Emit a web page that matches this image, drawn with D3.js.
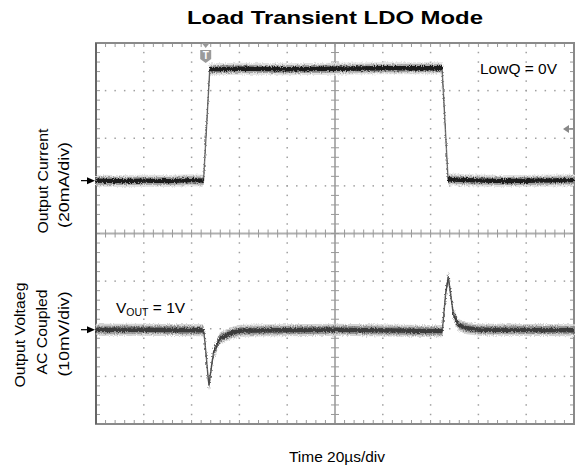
<!DOCTYPE html>
<html><head><meta charset="utf-8">
<script src="https://cdn.jsdelivr.net/npm/d3@7"></script>
<style>
html,body{margin:0;padding:0;background:#fff;}
svg{display:block;font-family:"Liberation Sans",Arial,Helvetica,sans-serif;}
</style></head>
<body>
<svg id="chart" width="576" height="468"></svg>
<script>
// ---- data ----
const title = "Load Transient LDO Mode";
const xLabel = "Time 20\u00B5s/div";
const currentLabel = ["Output Current", "(20mA/div)"];
const voltageLabel = ["Output Voltaeg", "AC Coupled", "(10mV/div)"];
const timeDivUs = 20, timeDivs = 10;
const currentDivMA = 20, voltageDivMV = 10, vertDivs = 8;

// Output current trace (µs, mA relative to screen centre)
const currentTimeUs = [0, 10, 20, 30, 40, 45.0, 47.6, 60, 80, 100, 120, 144.8, 147.3, 155, 170, 185, 200];
const currentMA     = [22.2, 22.0, 22.2, 22.0, 22.4, 22.2, 69.0, 69.2, 69.0, 69.2, 69.4, 69.4, 22.8, 22.4, 22.0, 22.2, 22.4];

// Output voltage trace (µs, mV relative to screen centre)
const voltTimeUs = [0, 20, 44.9, 45.2, 46.0, 47.0, 47.3, 48.1, 49.1, 51.9, 56.1, 60.3, 100, 144.9, 145.3, 146.3, 147.4, 148.4, 149.5, 151.6, 155.1, 160.7, 200];
const voltMV     = [-20.2, -20.2, -20.3, -20.9, -25.1, -30.8, -31.8, -28.7, -25.2, -22.0, -21.0, -20.4, -20.2, -20.5, -18.2, -12.6, -9.2, -12.8, -16.8, -19.2, -19.9, -20.2, -20.3];

// markers
const currentRefMA = 22.2, voltageRefMV = -20.2;
const triggerTimeUs = 45.9, triggerLevelMA = 43.9;
const annotLowQ = "LowQ = 0V";

// ---- layout ----
const svg = d3.select("#chart");
const L = 96, R = 574, T = 43, B = 424;
const x = d3.scaleLinear().domain([0, timeDivUs * timeDivs]).range([L, R]);
const yI = d3.scaleLinear().domain([-currentDivMA * vertDivs / 2, currentDivMA * vertDivs / 2]).range([B, T]);
const yV = d3.scaleLinear().domain([-voltageDivMV * vertDivs / 2, voltageDivMV * vertDivs / 2]).range([B, T]);
const xs = d3.scaleLinear().domain([0, timeDivs]).range([L, R]);
const ys = d3.scaleLinear().domain([-vertDivs / 2, vertDivs / 2]).range([B, T]);

// noise texture filter (visual style only)
const defs = svg.append("defs");
const f = defs.append("filter").attr("id", "noisy").attr("x", "-5%").attr("y", "-20%").attr("width", "110%").attr("height", "140%");
f.append("feTurbulence").attr("type", "fractalNoise").attr("baseFrequency", "0.9 0.6").attr("numOctaves", 2).attr("seed", 3).attr("result", "n");
f.append("feDisplacementMap").attr("in", "SourceGraphic").attr("in2", "n").attr("scale", 4).attr("xChannelSelector", "R").attr("yChannelSelector", "G");

const grid = svg.append("g");
// dotted grid
const minorX = d3.range(0, timeDivs + 0.001, 0.2);
const minorY = d3.range(-vertDivs / 2, vertDivs / 2 + 0.001, 0.2);
const majorX = d3.range(1, timeDivs).filter(d => d !== timeDivs / 2);
const majorY = d3.range(-vertDivs / 2 + 1, vertDivs / 2).filter(d => d !== 0);
majorX.forEach(mx => {
  minorY.forEach(my => {
    grid.append("rect").attr("x", xs(mx) - 0.75).attr("y", ys(my) - 0.75).attr("width", 1.5).attr("height", 1.5).attr("fill", "#a0a0a0");
  });
});
majorY.forEach(my => {
  minorX.forEach(mx => {
    grid.append("rect").attr("x", xs(mx) - 0.75).attr("y", ys(my) - 0.75).attr("width", 1.5).attr("height", 1.5).attr("fill", "#a0a0a0");
  });
});
// centre crosshair
grid.append("line").attr("x1", L).attr("x2", R).attr("y1", ys(0)).attr("y2", ys(0)).attr("stroke", "#b0b0b0").attr("stroke-width", 2);
grid.append("line").attr("x1", xs(timeDivs / 2)).attr("x2", xs(timeDivs / 2)).attr("y1", T).attr("y2", B).attr("stroke", "#b0b0b0").attr("stroke-width", 2);
minorX.forEach(mx => {
  grid.append("line").attr("x1", xs(mx)).attr("x2", xs(mx)).attr("y1", ys(0) - 4).attr("y2", ys(0) + 4).attr("stroke", "#999").attr("stroke-width", 1);
  grid.append("line").attr("x1", xs(mx)).attr("x2", xs(mx)).attr("y1", T).attr("y2", T + 4).attr("stroke", "#999").attr("stroke-width", 1);
  grid.append("line").attr("x1", xs(mx)).attr("x2", xs(mx)).attr("y1", B - 4).attr("y2", B).attr("stroke", "#999").attr("stroke-width", 1);
});
minorY.forEach(my => {
  grid.append("line").attr("x1", xs(timeDivs / 2) - 4).attr("x2", xs(timeDivs / 2) + 4).attr("y1", ys(my)).attr("y2", ys(my)).attr("stroke", "#999").attr("stroke-width", 1);
  grid.append("line").attr("x1", L).attr("x2", L + 4).attr("y1", ys(my)).attr("y2", ys(my)).attr("stroke", "#999").attr("stroke-width", 1);
  grid.append("line").attr("x1", R - 4).attr("x2", R).attr("y1", ys(my)).attr("y2", ys(my)).attr("stroke", "#999").attr("stroke-width", 1);
});
// frame
grid.append("rect").attr("x", L).attr("y", T).attr("width", R - L).attr("height", B - T).attr("fill", "none").attr("stroke", "#8a8a8a").attr("stroke-width", 2);
grid.append("line").attr("x1", L).attr("x2", L).attr("y1", T).attr("y2", B).attr("stroke", "#666").attr("stroke-width", 2);

// ---- traces ----
function drawTrace(times, vals, yScale, colors) {
  const pts = times.map((t, i) => [t, vals[i]]);
  const g = svg.append("g");
  const band = h => d3.area().x(d => x(d[0])).y0(d => yScale(d[1]) - h).y1(d => yScale(d[1]) + h);
  g.append("path").datum(pts).attr("d", band(6)).attr("fill", colors[0]).attr("filter", "url(#noisy)");
  g.append("path").datum(pts).attr("d", band(4)).attr("fill", colors[1]).attr("filter", "url(#noisy)");
  g.append("path").datum(pts).attr("d", d3.line().x(d => x(d[0])).y(d => yScale(d[1]))).attr("fill", "none").attr("stroke", colors[3]).attr("stroke-width", 1.4);
  g.append("path").datum(pts).attr("d", band(2.2)).attr("fill", colors[2]).attr("filter", "url(#noisy)");
}
drawTrace(currentTimeUs, currentMA, yI, ["#e2e2e2", "#a0a0a0", "#1a1a1a", "#777"]);
drawTrace(voltTimeUs, voltMV, yV, ["#d4d4d4", "#959595", "#3a3a3a", "#666"]);

// ---- markers ----
function leftArrow(y) {
  svg.append("line").attr("x1", 81).attr("x2", 89).attr("y1", y).attr("y2", y).attr("stroke", "#000").attr("stroke-width", 1.2);
  svg.append("path").attr("d", `M${95},${y} L${87},${y - 3.5} L${87},${y + 3.5} Z`).attr("fill", "#000");
}
leftArrow(yI(currentRefMA));
leftArrow(yV(voltageRefMV));
// trigger level (right)
const ty = yI(triggerLevelMA);
svg.append("path").attr("d", `M${563},${ty} L${569},${ty - 4} L${569},${ty + 4} Z`).attr("fill", "#888");
svg.append("line").attr("x1", 569).attr("x2", 573).attr("y1", ty).attr("y2", ty).attr("stroke", "#888").attr("stroke-width", 1.5);
// trigger time (top)
const tx = x(triggerTimeUs);
svg.append("path").attr("d", `M${tx - 4},${T} L${tx + 4},${T} L${tx},${T + 5} Z`).attr("fill", "#999");
svg.append("path").attr("d", `M${tx - 5.5},${T + 7} L${tx + 5.5},${T + 7} L${tx + 5.5},${T + 16} L${tx},${T + 20} L${tx - 5.5},${T + 16} Z`).attr("fill", "#9a9a9a");
svg.append("text").attr("x", tx).attr("y", T + 16).attr("text-anchor", "middle").attr("font-size", 10).attr("font-weight", "bold").attr("fill", "#fff").text("T");

// ---- text ----
svg.append("text").attr("x", 335).attr("y", 24).attr("text-anchor", "middle").attr("font-size", 19).attr("font-weight", "bold").attr("fill", "#000")
  .attr("textLength", 296).attr("lengthAdjust", "spacingAndGlyphs").text(title);
svg.append("text").attr("x", 480).attr("y", 74).attr("font-size", 15).attr("fill", "#000")
  .attr("textLength", 77).attr("lengthAdjust", "spacingAndGlyphs").text(annotLowQ);
const vt = svg.append("text").attr("x", 116).attr("y", 313).attr("font-size", 15.5).attr("fill", "#000");
vt.append("tspan").text("V");
vt.append("tspan").attr("font-size", 10.5).attr("dy", 3).text("OUT");
vt.append("tspan").attr("dy", -3).text(" = 1V");
svg.append("text").attr("x", 337).attr("y", 462).attr("text-anchor", "middle").attr("font-size", 15).attr("fill", "#000")
  .attr("textLength", 96).attr("lengthAdjust", "spacingAndGlyphs").text(xLabel);

function rotLabel(lines, xsPos, ysPos, lens) {
  lines.forEach((t, i) => {
    svg.append("text").attr("transform", `translate(${xsPos[i]},${ysPos[i]}) rotate(-90)`).attr("text-anchor", "middle").attr("font-size", 15).attr("fill", "#000")
      .attr("textLength", lens[i]).attr("lengthAdjust", "spacingAndGlyphs").text(t);
  });
}
rotLabel(currentLabel, [48, 69], [181, 185], [105, 86]);
rotLabel(voltageLabel, [25, 47, 69], [335, 332, 334], [105, 85, 85]);
</script>
</body></html>
